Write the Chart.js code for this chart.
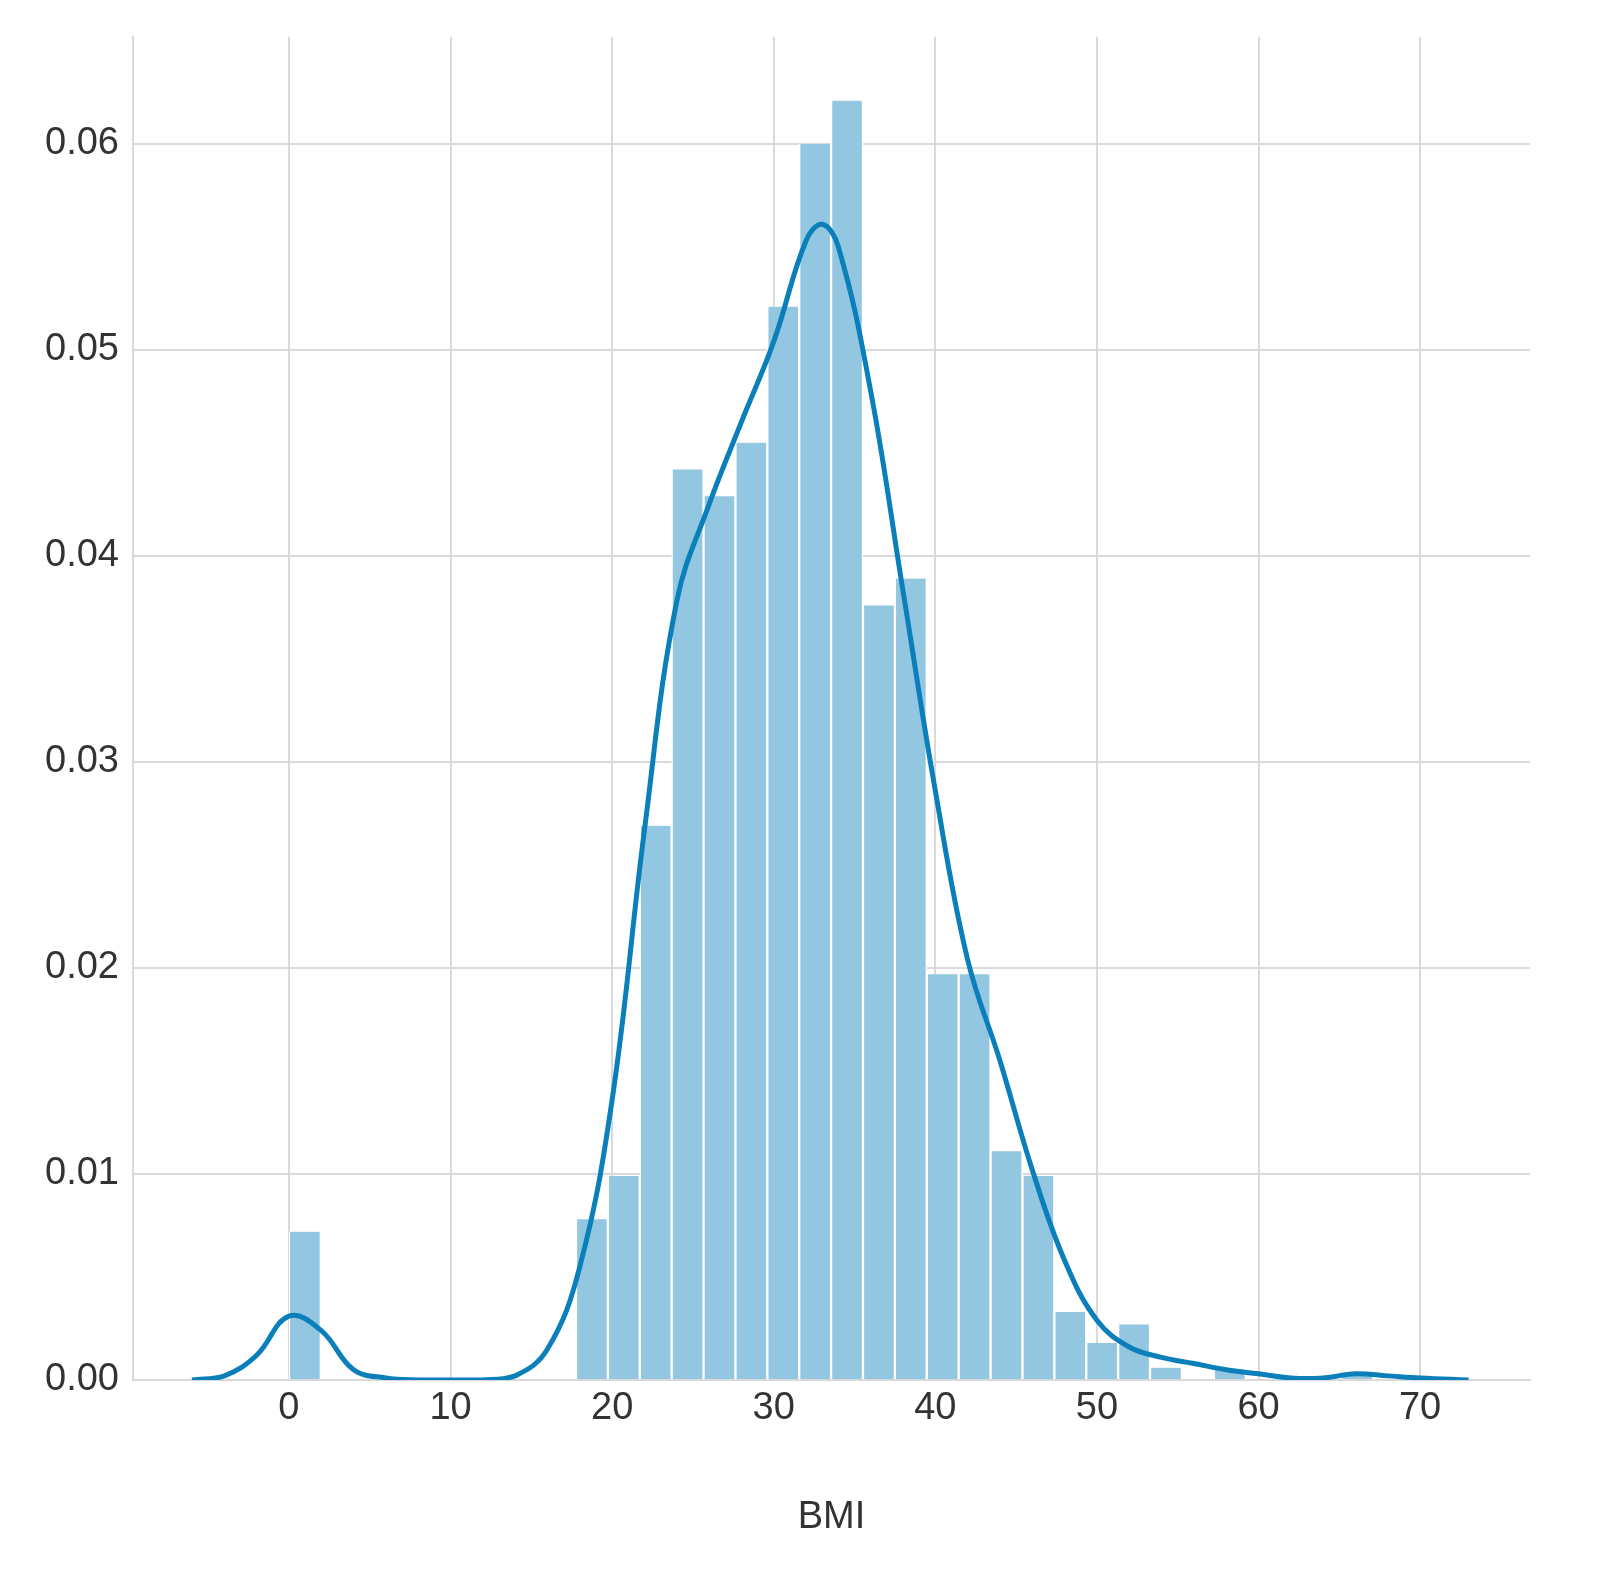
<!DOCTYPE html>
<html><head><meta charset="utf-8">
<script src="https://cdn.jsdelivr.net/npm/chart.js@4"></script>
<style>html,body{margin:0;padding:0;background:#fff}#w{width:1623px;height:1584px}</style>
</head><body><div id="w"><canvas id="c"></canvas></div>
<script>
const binWidth = 67.1/34;
const binHeights = [0.0072,0,0,0,0,0,0,0,0,0.0078,0.0099,0.0269,0.0442,0.0429,0.0455,0.0521,0.0600,0.0621,0.0376,0.0389,0.0197,0.0197,0.0111,0.0099,0.0033,0.0018,0.0027,0.0006,0,0.0005,0,0,0,0.0002];
const kdeX = [-6,-4,-2,0,2,4,6,8,10,12,14,16,18,20,22,24,26,28,30,32,33,34,36,38,40,42,44,46,48,50,52,54,56,58,60,62,64,66,68,70,73];
const kdeY = [0,0.0002,0.0012,0.0031,0.0024,0.0005,0.0001,0,0,0,0.0002,0.0015,0.0055,0.0136,0.0267,0.0378,0.0425,0.0465,0.0504,0.0553,0.0561,0.0550,0.0480,0.0383,0.0286,0.0204,0.0155,0.0102,0.0058,0.0029,0.0016,0.0011,0.0008,0.0005,0.0003,0.0001,0.0001,0.0003,0.0002,0.0001,0];
const xTicks = [0,10,20,30,40,50,60,70];
const yTicks = [0,0.01,0.02,0.03,0.04,0.05,0.06];
const font = {family:'"Liberation Sans", Arial, sans-serif', size:38};
new Chart(document.getElementById('c'), {
  data:{datasets:[
    {type:'line', data:kdeX.map((x,i)=>({x, y:kdeY[i]})), borderColor:'#0a7fb9', borderWidth:5, pointRadius:0, tension:0.4, fill:false},
    {type:'bar', data:binHeights.map((h,i)=>({x:(i+0.5)*binWidth, y:h})), backgroundColor:'#93c6e0', borderColor:'#ffffff', borderWidth:{left:1.5,right:1.5,top:0,bottom:0}, barPercentage:1, categoryPercentage:1, grouped:false}
  ]},
  options:{responsive:true, maintainAspectRatio:false, animation:false,
    layout:{padding:{top:35,right:93,bottom:40,left:10}},
    plugins:{legend:{display:false}, tooltip:{enabled:false}},
    scales:{
      x:{type:'linear', min:-9.65, max:76.8, offset:false,
        afterBuildTicks:a=>{a.ticks = xTicks.map(v=>({value:v}));},
        afterFit:a=>{a.height=164;},
        ticks:{font, color:'#333', padding:6},
        grid:{color:'#d9d9d9', lineWidth:2, tickLength:0, offset:false},
        border:{color:'#d9d9d9', width:2},
        title:{display:true, text:'BMI', font, color:'#333', padding:{top:20}}},
      y:{min:0, max:0.0652,
        afterBuildTicks:a=>{a.ticks = yTicks.map(v=>({value:v}));},
        afterFit:a=>{a.width=123;},
        ticks:{font, color:'#333', padding:14, callback:v=>v.toFixed(2)},
        grid:{color:'#d9d9d9', lineWidth:2, tickLength:0},
        border:{color:'#d9d9d9', width:2}}
    }}
});
</script></body></html>
